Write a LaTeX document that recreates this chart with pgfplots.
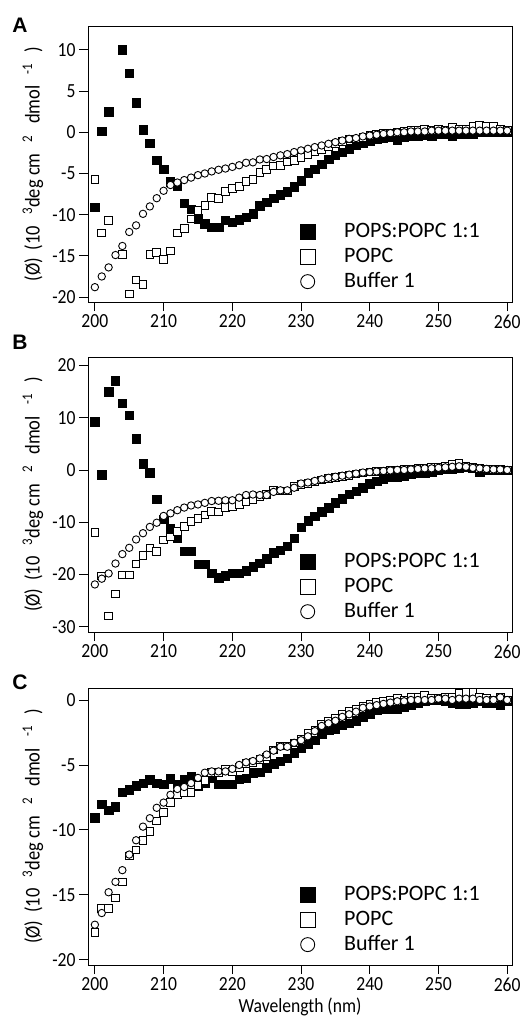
\documentclass[border=0pt]{standalone}
\usepackage{fontspec}
\setmainfont{Carlito}
\newfontfamily\tickfont[FakeStretch=0.88]{Carlito}
\newfontfamily\boldsans{Liberation Sans}
\usepackage{pgfplots}
\pgfplotsset{compat=1.18}
\newcommand{\tfs}{\tickfont\fontsize{20bp}{24bp}\selectfont}
\newcommand{\lfs}{\tickfont\fontsize{21bp}{25bp}\selectfont}
\pgfplotsset{
  cdstyle/.style={
    scale only axis, width=424bp, xmin=199, xmax=260.7,
    xtick={200,210,...,260},
    tick align=outside, tick pos=left,
    major tick length=9bp,
    axis line style={line width=0.8bp},
    every tick/.style={black, line width=0.8bp},
    /pgf/number format/assume math mode=true,
    ticklabel style={font=\tfs},
    xlabel style={font=\tfs},
    ylabel={(Ø)\, (10\,\, \textsuperscript{3}deg cm\,\, \textsuperscript{2}\,\, dmol\,\, \textsuperscript{-1}\,\, )},
    ylabel style={at={(axis description cs:-0.13,0.5)}, anchor=center, font=\lfs},
    legend style={draw=none, fill=none, inner sep=0pt,
      at={(axis description cs:0.5,0.035)}, anchor=south west,
      font=\fontsize{22bp}{26bp}\selectfont, row sep=4bp, column sep=28bp,
      nodes={inner sep=1bp, text height=15bp, text depth=4bp}},
    legend cell align=left,
  },
  bigleg/.style={legend image code/.code={\path (0bp,-7bp) (14bp,7bp); \draw[##1,mark size=#1] plot coordinates {(7bp,0bp)};}},
  fmark/.style={only marks, mark=square*, mark size=4.2bp, mark options={fill=black, draw=black, line width=0.4bp}, bigleg=7.5bp},
  smark/.style={only marks, mark=square*, mark size=3.8bp, mark options={fill=white, draw=black, line width=0.9bp}, bigleg=7.5bp},
  cmark/.style={only marks, mark=*, mark size=3.7bp, mark options={fill=white, draw=black, line width=0.9bp}, bigleg=7bp},
}
\begin{document}
\begin{tikzpicture}
\path[use as bounding box] (0,0) rectangle (522bp,-1030bp);
\node[font=\boldsans\bfseries\fontsize{21bp}{21bp}\selectfont] at (20bp,-25bp) {A};
\node[font=\boldsans\bfseries\fontsize{21bp}{21bp}\selectfont] at (20bp,-342bp) {B};
\node[font=\boldsans\bfseries\fontsize{21bp}{21bp}\selectfont] at (20bp,-682bp) {C};
% ---------------- Panel A
\begin{axis}[cdstyle, at={(88bp,-302bp)}, anchor=south west, height=276bp,
  ymin=-20.6, ymax=12.9, ytick={-20,-15,...,10}]
\addplot[fmark] coordinates {
(200,-9.1)(201,0.1)(202,2.5)(204,10.0)(205,7.2)(206,3.6)(207,0.3)(208,-1.3)(209,-3.4)(210,-4.5)
(211,-6.0)(212,-6.5)(213,-8.6)(214,-9.3)(215,-10.5)(216,-11.1)(217,-11.5)(218,-11.5)(219,-10.7)(220,-10.9)
(221,-10.6)(222,-10.3)(223,-9.9)(224,-8.9)(225,-8.5)(226,-8.0)(227,-7.6)(228,-7.2)(229,-6.6)(230,-5.9)
(231,-4.9)(232,-4.5)(233,-3.9)(234,-3.3)(235,-2.8)(236,-2.4)(237,-2.0)(238,-1.6)(239,-1.3)(240,-1.0)
(241,-0.8)(242,-0.75)(243,-0.6)(244,-0.9)(245,-0.6)(246,-0.4)(247,-0.4)(248,-0.3)(249,-0.4)(250,-0.2)
(251,-0.2)(252,-0.4)(253,-0.2)(254,-0.2)(255,-0.2)(256,0)(257,0)(258,0)(259,0)(260,0)};
\addlegendentry{POPS:POPC 1:1}
\addplot[smark] coordinates {
(200,-5.7)(201,-12.2)(202,-10.7)(204,-14.8)(205,-19.6)(206,-17.9)(207,-18.5)(208,-14.8)(209,-14.6)(210,-15.4)
(211,-14.4)(212,-12.2)(213,-11.7)(214,-10.5)(215,-9.5)(216,-8.9)(217,-7.9)(218,-8.0)(219,-7.2)(220,-6.8)
(221,-6.6)(222,-6.0)(223,-5.7)(224,-4.9)(225,-4.5)(226,-4.1)(227,-4.0)(228,-3.6)(229,-3.4)(230,-3.05)
(231,-2.7)(232,-2.4)(233,-2.1)(234,-1.8)(235,-1.4)(236,-1.1)(237,-0.8)(238,-0.8)(239,-0.6)(240,-0.35)
(241,-0.2)(242,-0.1)(243,-0.1)(244,0)(245,0.1)(246,0.2)(247,0.25)(248,0.4)(249,0.2)(250,0.4)
(251,0.3)(252,0.6)(253,0.4)(254,0.4)(255,0.7)(256,0.8)(257,0.7)(258,0.7)(259,0.4)(260,0.2)};
\addlegendentry{POPC}
\addplot[cmark] coordinates {
(200,-18.8)(201,-17.5)(202,-16.4)(203,-14.9)(204,-13.8)(205,-12.1)(206,-11.3)(207,-9.9)(208,-9.0)(209,-8.0)
(210,-7.1)(211,-6.4)(212,-6.1)(213,-5.8)(214,-5.5)(215,-5.2)(216,-5.0)(217,-4.75)(218,-4.55)(219,-4.4)
(220,-4.2)(221,-4.0)(222,-3.7)(223,-3.65)(224,-3.3)(225,-3.25)(226,-3.0)(227,-2.8)(228,-2.65)(229,-2.4)
(230,-2.2)(231,-2.0)(232,-1.8)(233,-1.6)(234,-1.4)(235,-1.2)(236,-1.0)(237,-0.8)(238,-0.7)(239,-0.5)
(240,-0.4)(241,-0.3)(242,-0.2)(243,-0.1)(244,0)(245,0)(246,0.1)(247,0.1)(248,0.1)(249,0.2)
(250,0.2)(251,0.2)(252,0.2)(253,0.2)(254,0.2)(255,0.2)(256,0.2)(257,0.2)(258,0.2)(259,0.2)(260,0.2)};
\addlegendentry{Buffer 1}
\end{axis}
% ---------------- Panel B
\begin{axis}[cdstyle, at={(88bp,-632bp)}, anchor=south west, height=275bp,
  ymin=-31, ymax=21.6, ytick={-30,-20,...,20}]
\addplot[fmark] coordinates {
(200,9.2)(201,-0.9)(202,15.0)(203,17.1)(204,12.8)(205,10.5)(206,6.0)(207,1.2)(208,-0.5)(209,-5.6)
(210,-9.45)(211,-11.2)(212,-12.95)(213,-15.6)(214,-15.6)(215,-18.0)(216,-18.0)(217,-19.8)(218,-20.6)(219,-20.2)
(220,-19.8)(221,-19.8)(222,-19.3)(223,-18.5)(224,-17.85)(225,-17.0)(226,-15.8)(227,-15.3)(228,-14.6)(229,-13.0)
(230,-11.0)(231,-9.7)(232,-8.9)(233,-8.0)(234,-7.2)(235,-6.3)(236,-5.5)(237,-4.6)(238,-4.1)(239,-3.4)
(240,-2.6)(241,-2.1)(242,-1.7)(243,-1.3)(244,-1.3)(245,-1.2)(246,-0.8)(247,-0.6)(248,-0.5)(249,-0.3)
(250,-0.1)(251,0.1)(252,0.2)(253,0.3)(254,0.5)(255,0.3)(256,-0.3)(257,0)(258,0)(259,0)(260,0)};
\addlegendentry{POPS:POPC 1:1}
\addplot[smark] coordinates {
(200,-12.0)(201,-20.3)(202,-27.9)(203,-23.7)(204,-20.1)(205,-20.1)(206,-18.0)(207,-16.3)(208,-14.9)(209,-15.6)
(210,-13.4)(211,-12.8)(212,-11.8)(213,-10.85)(214,-9.9)(215,-9.3)(216,-8.6)(217,-7.9)(218,-8.0)(219,-7.2)
(220,-7.0)(221,-6.6)(222,-6.1)(223,-5.6)(224,-5.1)(225,-4.7)(226,-3.9)(227,-4.0)(228,-4.0)(229,-3.2)
(230,-2.8)(231,-2.6)(232,-2.3)(233,-1.9)(234,-1.6)(235,-1.4)(236,-1.2)(237,-1.0)(238,-0.8)(239,-0.6)
(240,-0.4)(241,-0.3)(242,-0.2)(243,-0.1)(244,0.0)(245,0.1)(246,0.2)(247,0.3)(248,0.4)(249,0.5)
(250,0.6)(251,0.8)(252,1.0)(253,1.2)(254,0.8)(255,0.5)(256,0.3)(257,0.2)(258,0.1)(259,0.1)(260,0.0)};
\addlegendentry{POPC}
\addplot[cmark] coordinates {
(200,-21.9)(201,-20.8)(202,-19.8)(203,-17.9)(204,-16.1)(205,-14.9)(206,-13.3)(207,-12.1)(208,-10.9)(209,-10.1)
(210,-8.8)(211,-8.3)(212,-7.7)(213,-7.2)(214,-6.8)(215,-6.6)(216,-6.3)(217,-5.95)(218,-5.9)(219,-5.8)
(220,-5.8)(221,-5.3)(222,-4.8)(223,-4.7)(224,-4.8)(225,-4.8)(226,-4.2)(227,-3.9)(228,-3.9)(229,-3.4)
(230,-2.6)(231,-2.4)(232,-2.1)(233,-1.8)(234,-1.5)(235,-1.3)(236,-1.1)(237,-0.9)(238,-0.7)(239,-0.5)
(240,-0.4)(241,-0.3)(242,-0.2)(243,-0.1)(244,0.0)(245,0.0)(246,0.1)(247,0.2)(248,0.3)(249,0.3)
(250,0.4)(251,0.5)(252,0.6)(253,0.7)(254,0.6)(255,0.4)(256,0.3)(257,0.2)(258,0.1)(259,0.1)(260,0.0)};
\addlegendentry{Buffer 1}
\end{axis}
% ---------------- Panel C
\begin{axis}[cdstyle, at={(88bp,-965bp)}, anchor=south west, height=277bp,
  ymin=-20.4, ymax=0.92, ytick={-20,-15,...,0},
  xlabel={Wavelength (nm)}]
\addplot[fmark] coordinates {
(200,-9.05)(201,-8.0)(202,-8.5)(203,-8.2)(204,-7.1)(205,-6.9)(206,-6.6)(207,-6.4)(208,-6.15)(209,-6.4)
(210,-6.5)(211,-6.05)(212,-6.5)(213,-6.1)(214,-5.9)(215,-6.6)(216,-6.4)(217,-6.0)(218,-6.5)(219,-6.5)
(220,-6.5)(221,-6.1)(222,-6.0)(223,-5.6)(224,-5.55)(225,-5.2)(226,-4.9)(227,-4.7)(228,-4.5)(229,-4.05)
(230,-3.7)(231,-3.4)(232,-3.1)(233,-2.6)(234,-2.3)(235,-2.2)(236,-1.95)(237,-1.8)(238,-1.6)(239,-1.3)
(240,-1.1)(241,-0.8)(242,-0.7)(243,-0.7)(244,-0.7)(245,-0.55)(246,-0.4)(247,-0.2)(248,-0.1)(249,0.0)
(250,0.0)(251,-0.1)(252,-0.2)(253,-0.3)(254,-0.3)(255,-0.2)(256,-0.1)(257,-0.2)(258,-0.2)(259,-0.4)(260,-0.1)};
\addlegendentry{POPS:POPC 1:1}
\addplot[smark] coordinates {
(200,-17.9)(201,-16.05)(202,-16.05)(203,-15.25)(204,-14.0)(205,-12.0)(206,-11.55)(207,-10.8)(208,-10.1)(209,-9.3)
(210,-8.65)(211,-7.9)(212,-7.25)(213,-7.1)(214,-7.1)(215,-6.6)(216,-6.2)(217,-5.6)(218,-5.6)(219,-5.3)
(220,-5.5)(221,-5.2)(222,-4.9)(223,-4.8)(224,-4.6)(225,-4.4)(226,-3.85)(227,-3.55)(228,-3.55)(229,-3.3)
(230,-3.0)(231,-2.6)(232,-2.3)(233,-1.9)(234,-1.6)(235,-1.4)(236,-1.1)(237,-0.9)(238,-0.7)(239,-0.5)
(240,-0.3)(241,-0.2)(242,-0.1)(243,0.0)(244,0.1)(245,0.0)(246,0.2)(247,0.2)(248,0.4)(249,0.1)
(250,0.1)(251,0.2)(252,0.2)(253,0.5)(254,0.6)(255,0.6)(256,0.2)(257,0.1)(258,0.0)(259,0.2)(260,0.0)};
\addlegendentry{POPC}
\addplot[cmark] coordinates {
(200,-17.3)(201,-16.4)(202,-14.8)(203,-14.0)(204,-13.1)(205,-11.9)(206,-10.8)(207,-9.75)(208,-9.1)(209,-8.3)
(210,-7.9)(211,-7.3)(212,-6.85)(213,-6.7)(214,-6.4)(215,-6.0)(216,-5.6)(217,-5.5)(218,-5.5)(219,-5.5)
(220,-5.3)(221,-5.0)(222,-4.8)(223,-4.7)(224,-4.5)(225,-4.2)(226,-3.9)(227,-3.6)(228,-3.6)(229,-3.3)
(230,-3.1)(231,-2.8)(232,-2.4)(233,-2.0)(234,-1.8)(235,-1.6)(236,-1.3)(237,-1.1)(238,-0.9)(239,-0.6)
(240,-0.5)(241,-0.4)(242,-0.3)(243,-0.2)(244,-0.1)(245,-0.1)(246,0.0)(247,0.0)(248,0.0)(249,0.0)
(250,0.1)(251,0.1)(252,0.0)(253,0.1)(254,0.1)(255,0.1)(256,0.0)(257,0.0)(258,0.0)(259,0.2)(260,0.0)};
\addlegendentry{Buffer 1}
\end{axis}
\end{tikzpicture}
\end{document}
